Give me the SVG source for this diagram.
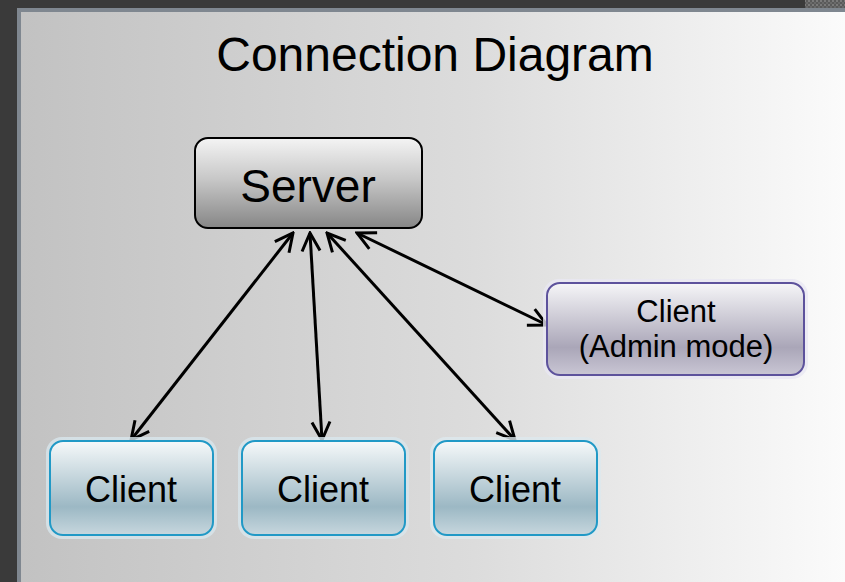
<svg xmlns="http://www.w3.org/2000/svg" width="845" height="582" viewBox="0 0 845 582">
  <style>
    .lbl { font-family: "Liberation Sans", Arial, sans-serif; fill: #000; text-anchor: middle; }
    .link { stroke: #000; stroke-width: 3; fill: none; marker-start: url(#head); marker-end: url(#head); }
  </style>
  <defs>
    <linearGradient id="panel" x1="0" y1="0" x2="1" y2="0">
      <stop offset="0" stop-color="#c2c2c2"/>
      <stop offset="0.55" stop-color="#dcdcdc"/>
      <stop offset="1" stop-color="#fbfbfb"/>
    </linearGradient>
    <linearGradient id="srv" x1="0" y1="0" x2="0" y2="1">
      <stop offset="0" stop-color="#f4f4f4"/>
      <stop offset="0.45" stop-color="#c8c8c8"/>
      <stop offset="1" stop-color="#868686"/>
    </linearGradient>
    <linearGradient id="cli" x1="0" y1="0" x2="0" y2="1">
      <stop offset="0" stop-color="#f6f9fa"/>
      <stop offset="0.7" stop-color="#9cb8c4"/>
      <stop offset="1" stop-color="#c7d7de"/>
    </linearGradient>
    <linearGradient id="adm" x1="0" y1="0" x2="0" y2="1">
      <stop offset="0" stop-color="#f6f6f8"/>
      <stop offset="0.7" stop-color="#aaa6b8"/>
      <stop offset="1" stop-color="#c9c6d4"/>
    </linearGradient>
    <pattern id="grain" width="4" height="4" patternUnits="userSpaceOnUse">
      <rect width="4" height="4" fill="#5a5a5a"/>
      <rect width="2" height="2" fill="#7a7a7a"/>
      <rect x="2" y="2" width="2" height="2" fill="#6a6a6a"/>
    </pattern>
    <marker id="head" viewBox="0 0 22 22" refX="20" refY="11" markerWidth="22" markerHeight="22" markerUnits="userSpaceOnUse" orient="auto-start-reverse">
      <path d="M2,2 L20,11 L2,20" fill="none" stroke="#000" stroke-width="3"/>
    </marker>
  </defs>

  <!-- backdrop and slide panel -->
  <rect width="845" height="582" fill="#3a3a3a"/>
  <rect x="805" y="0" width="40" height="8" fill="url(#grain)"/>
  <rect x="17" y="8" width="828" height="574" fill="#7f8790"/>
  <rect x="21" y="12" width="824" height="570" fill="url(#panel)"/>

  <text class="lbl" x="435" y="71" font-size="48">Connection Diagram</text>

  <!-- connectors -->
  <g id="connectors">
    <line class="link" x1="293" y1="233" x2="131" y2="440"/>
    <line class="link" x1="310" y1="233" x2="322" y2="440"/>
    <line class="link" x1="327" y1="233" x2="515" y2="440"/>
    <line class="link" x1="357" y1="233" x2="547" y2="325"/>
  </g>

  <g id="server">
    <rect x="195" y="138" width="227" height="90" rx="13" fill="url(#srv)" stroke="#000" stroke-width="2"/>
    <text class="lbl" x="308" y="202" font-size="46">Server</text>
  </g>

  <g id="client-admin">
    <rect x="543" y="279" width="265" height="100" rx="16" fill="#e9e7f3" opacity="0.8"/>
    <rect x="547" y="283" width="257" height="92" rx="13" fill="url(#adm)" stroke="#5d529c" stroke-width="2"/>
    <text class="lbl" x="676" y="322" font-size="31">Client</text>
    <text class="lbl" x="676" y="357" font-size="31">(Admin mode)</text>
  </g>

  <g id="client-1">
    <rect x="46" y="437" width="171" height="102" rx="16" fill="#d8e6ec" opacity="0.8"/>
    <rect x="50" y="441" width="163" height="94" rx="13" fill="url(#cli)" stroke="#2199c6" stroke-width="2"/>
    <text class="lbl" x="131" y="502" font-size="36">Client</text>
  </g>

  <g id="client-2">
    <rect x="238" y="437" width="171" height="102" rx="16" fill="#d8e6ec" opacity="0.8"/>
    <rect x="242" y="441" width="163" height="94" rx="13" fill="url(#cli)" stroke="#2199c6" stroke-width="2"/>
    <text class="lbl" x="323" y="502" font-size="36">Client</text>
  </g>

  <g id="client-3">
    <rect x="430" y="437" width="171" height="102" rx="16" fill="#dde9ee" opacity="0.8"/>
    <rect x="434" y="441" width="163" height="94" rx="13" fill="url(#cli)" stroke="#2199c6" stroke-width="2"/>
    <text class="lbl" x="515" y="502" font-size="36">Client</text>
  </g>
</svg>
